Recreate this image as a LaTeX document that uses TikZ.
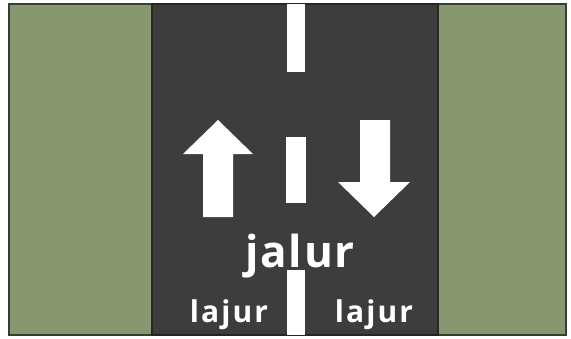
\documentclass[tikz,border=0pt]{standalone}
\usepackage{fontspec}
\setmainfont{Open Sans}
\definecolor{grass}{HTML}{88976F}
\definecolor{asphalt}{HTML}{3D3D3D}
\definecolor{verge}{HTML}{34402F}
\begin{document}
\begin{tikzpicture}[
  x=1pt,y=-1pt,
  paint/.style={fill=white,draw=none},
  lbl/.style={text=white,inner sep=0pt,anchor=base,font=\bfseries\fontsize{30}{30}\selectfont\addfontfeature{LetterSpace=7}},
  biglbl/.style={lbl,font=\bfseries\fontsize{44}{44}\selectfont\addfontfeature{LetterSpace=4}}
]
\useasboundingbox (0,0) rectangle (571,338);
\fill[white] (0,0) rectangle (571,338);
\filldraw[fill=grass,draw=verge,line width=1.5] (9,4) rectangle (566,335);
\filldraw[fill=asphalt,draw=black!85,line width=1.5] (152,4) rectangle (438,335);
% centre line
\fill[paint] (287,4) rectangle (305,72);
\fill[paint] (286,137) rectangle (306,203);
\fill[paint] (287,270) rectangle (305,335);
% direction arrows
\fill[paint] (218,120) -- (253,154) -- (233,154) -- (233,217) -- (203,217) -- (203,154) -- (183,154) -- cycle;
\fill[paint] (360,120) -- (390,120) -- (390,182) -- (410,182) -- (374,217) -- (338,182) -- (360,182) -- cycle;
\node[biglbl] (jalur) at (300,267) {jalur};
\node[lbl] (lajurL) at (229,322) {lajur};
\node[lbl] (lajurR) at (374,322) {lajur};
\end{tikzpicture}
\end{document}
